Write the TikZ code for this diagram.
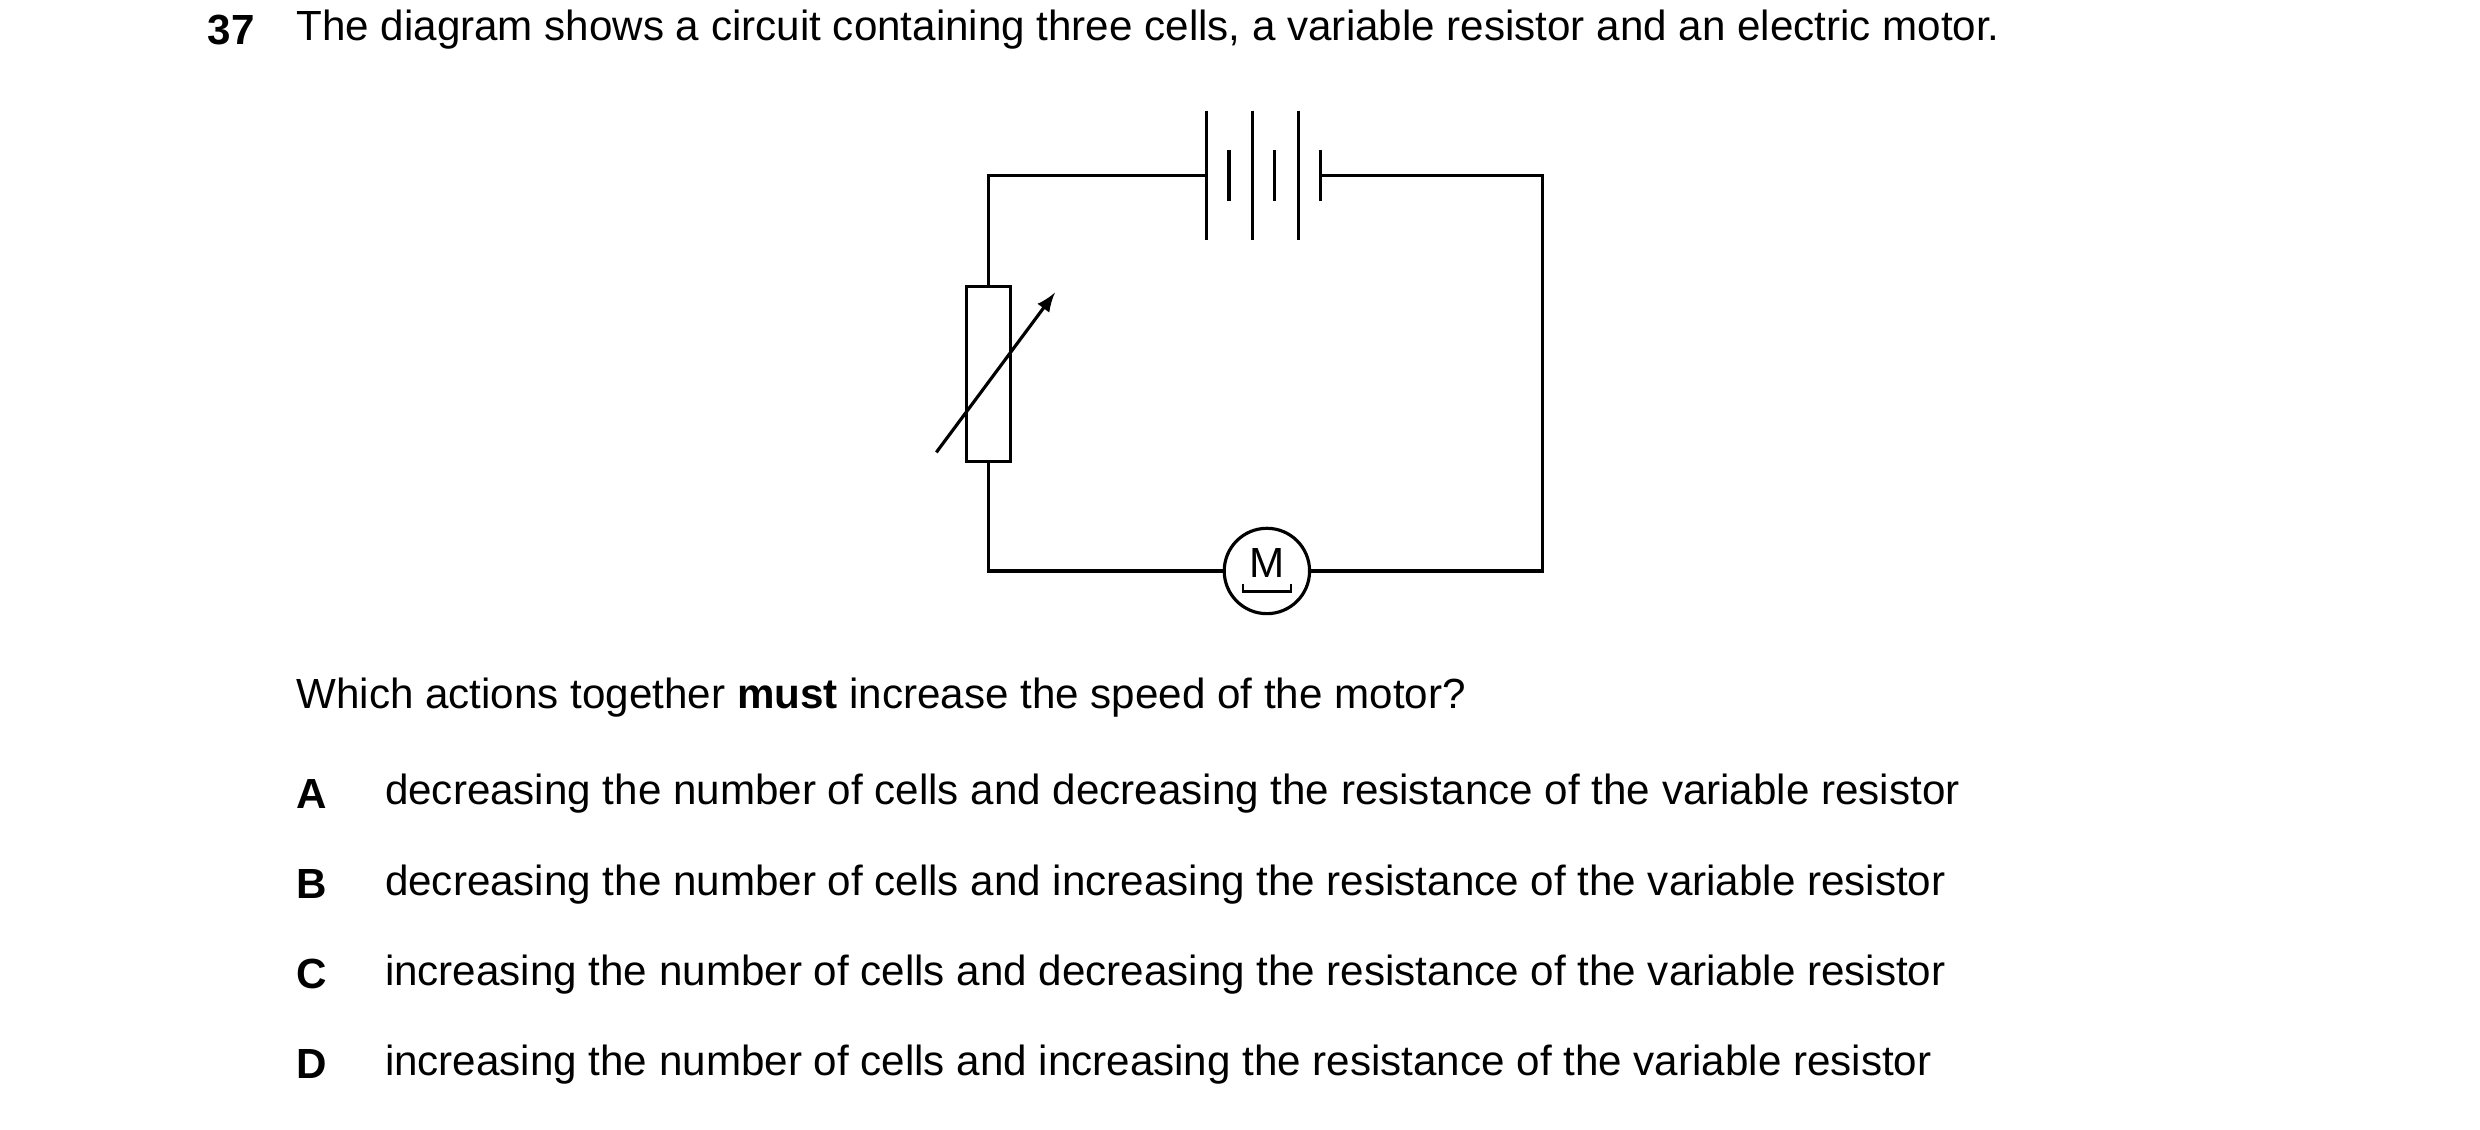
\documentclass[tikz,border=0pt]{standalone}
\usepackage{fontspec}
\setmainfont{Liberation Sans}
\usetikzlibrary{calc}
\tikzset{
  txt/.style={anchor=west, inner sep=0pt, font=\fontsize{12}{14}\selectfont},
  wire/.style={line width=0.9pt},
}
\newcommand{\drawCell}[3]{
	\draw[wire] (#1,#2) -- (#1,#3) ;
}

\begin{document}
\begin{tikzpicture}[x=0.01582cm, y=-0.01582cm]
\useasboundingbox (0,0) rectangle (1568,714);

%Question
	\node[txt, font=\fontsize{12}{14}\selectfont\bfseries] (qnum) at (131,19) {37};
	\node[txt] (qtext) at (187,19) {The diagram shows a circuit containing three cells, a variable resistor and an electric motor.};

%Corners
	\coordinate (tl) at (625,111);
	\coordinate (tr) at (975,111);
	\coordinate (bl) at (625,361);
	\coordinate (br) at (975,361);
	\coordinate (bleft) at (763,111);
	\coordinate (bright) at (836,111);

%Cells
	\foreach \x in {763,792,821}
	{
		\drawCell{\x}{70}{152}
		\drawCell{\x+14}{95}{127}
	}

%Resistor and motor
	\node[wire, draw, inner sep=0pt,
	      minimum width=0.443cm, minimum height=1.756cm] (res) at (625,236.5) {};
	\node[wire, draw, circle, minimum size=0.854cm, inner sep=0pt] (mot) at (801,361) {};
	\node[inner sep=0pt, font=\fontsize{12}{14}\selectfont] (mlabel) at (801,356) {M};
	\draw[line width=0.6pt] (786,369) -- (786,374) -- (816,374) -- (816,369);

%Wires
	\draw[wire] (bleft) -- (tl) -- (res.north);
	\draw[wire] (res.south) -- (bl) -- (mot.west);
	\draw[wire] (bright) -- (tr) -- (br) -- (mot.east);
	\coordinate (atail) at (592,286);
	\coordinate (ahead) at (667,185);
	\draw[wire, -latex] (atail) -- (ahead);

%Options
	\node[txt] (ask) at (187,441) {Which actions together \textbf{must} increase the speed of the motor?};
	\foreach \l/\y/\t in {A/502/{decreasing the number of cells and decreasing the resistance of the variable resistor},
	                      B/559/{decreasing the number of cells and increasing the resistance of the variable resistor},
	                      C/616/{increasing the number of cells and decreasing the resistance of the variable resistor},
	                      D/673/{increasing the number of cells and increasing the resistance of the variable resistor}}
	{
		\node[txt, font=\fontsize{12}{14}\selectfont\bfseries] (opt\l) at (187,\y) {\l};
		\node[txt] (text\l) at (243,\y) {\t};
	}
\end{tikzpicture}
\end{document}
